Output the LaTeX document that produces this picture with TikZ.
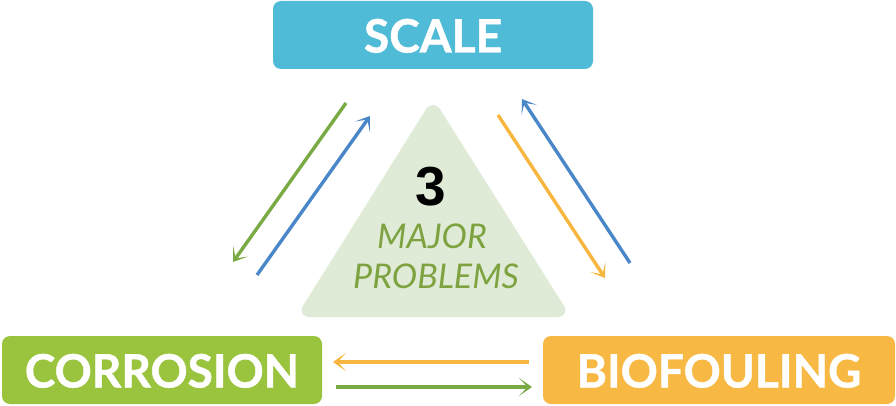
\documentclass[tikz,border=0pt]{standalone}
\usepackage{fontspec}
\setmainfont{Lato}
\newfontfamily\digitfont{Liberation Sans}
\usetikzlibrary{arrows.meta}

\definecolor{scaleblue}{HTML}{4FBBD7}
\definecolor{corrgreen}{HTML}{9AC43E}
\definecolor{bioorange}{HTML}{F7B844}
\definecolor{arrowgreen}{HTML}{7AAA43}
\definecolor{arrowblue}{HTML}{4A87C9}
\definecolor{arroworange}{HTML}{F7B63F}
\definecolor{trifill}{HTML}{DFEBD6}
\definecolor{trigreen}{HTML}{7DA23F}

\begin{document}
\begin{tikzpicture}[x = 1pt, y = -1pt,
    problem/.style = {rectangle, rounded corners = 8pt, minimum height = 68pt,
      inner sep = 0pt, text = white, text height = 35pt, text depth = 0pt,
      font = \fontsize{46}{46}\selectfont\bfseries\addfontfeature{FakeBold=1}},
    tritext/.style = {anchor = base, text = trigreen, font = \fontsize{34}{34}\selectfont\itshape},
    link/.style = {line width = 3.4pt, -{Stealth[length = 13pt, width = 18pt, inset = 8.5pt]}}]
  \useasboundingbox (0,0) rectangle (896,406);

  % the three problems
  \node [problem, fill = scaleblue, minimum width = 320pt] (scale) at (433,35) {SCALE};
  \node [problem, fill = corrgreen, minimum width = 320pt] (corr) at (162,370) {CORROSION};
  \node [problem, fill = bioorange, minimum width = 352pt] (bio) at (719,370) {BIOFOULING};

  % centre triangle
  \fill [trifill, rounded corners = 14pt] (433,98) -- (571,317) -- (296,317) -- cycle;
  \node [anchor = base, font = \digitfont\bfseries\fontsize{55}{55}\selectfont] (three) at (431,205) {3};
  \node [tritext] (major) at (432,248) {MAJOR};
  \node [tritext] (problems) at (436,288) {PROBLEMS};

  % arrow ends
  \foreach \name/\x/\y in {gA/346/103, gB/233/262, bA/257/275, bB/370/116,
    oA/498/115, oB/605/278, cA/630/263, cB/522/99,
    hA/529/362, hB/333/362, kA/336/387, kB/532/387}
    \coordinate (\name) at (\x,\y);

  \foreach \from/\to/\col in {gA/gB/arrowgreen, bA/bB/arrowblue, oA/oB/arroworange,
    cA/cB/arrowblue, hA/hB/arroworange, kA/kB/arrowgreen}
    \draw [link, \col] (\from) -- (\to);
\end{tikzpicture}
\end{document}
